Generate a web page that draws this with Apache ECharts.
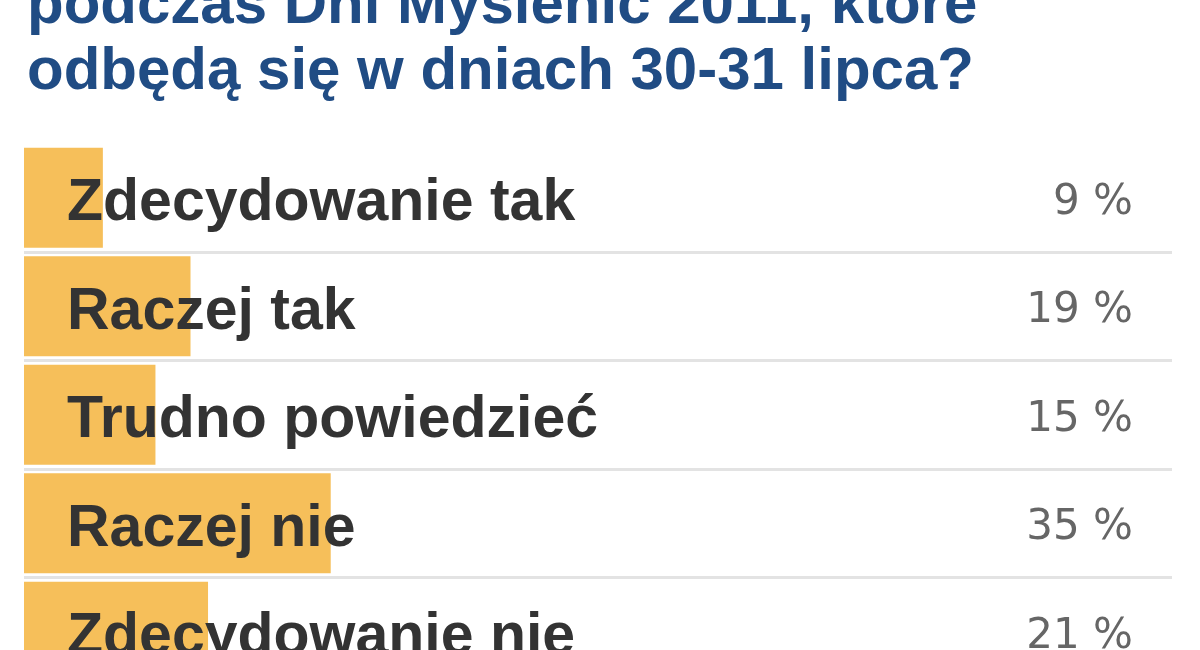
<!DOCTYPE html>
<html>
<head>
<meta charset="utf-8">
<script src="https://cdn.jsdelivr.net/npm/echarts@6/dist/echarts.min.js"></script>
<style>
  html, body { margin: 0; padding: 0; background: #fff; overflow: hidden; width: 1200px; height: 650px; }
  /* the last row runs past the bottom edge, as in the cropped original */
  #main { width: 1200px; height: 700px; }
</style>
</head>
<body>
<div id="main"></div>
<script>
// poll answers, top to bottom
var categories = ['Zdecydowanie tak', 'Raczej tak', 'Trudno powiedzieć', 'Raczej nie', 'Zdecydowanie nie'];
var values = [9, 19, 15, 35, 21];
var pctLabels = ['9 %', '19 %', '15 %', '35 %', '21 %'];

var myChart = echarts.init(document.getElementById('main'));

var option = {
    backgroundColor: '#fff',
    animation: false,
    title: {
        text: 'podczas Dni Myślenic 2011, które\nodbędą się w dniach 30-31 lipca?',
        left: 22,
        top: -32,
        textStyle: {
            fontFamily: 'Liberation Sans',
            fontSize: 60,
            fontWeight: 'bold',
            lineHeight: 66,
            color: '#204c84'
        }
    },
    grid: {
        left: 24,
        top: 143.5,
        width: 1148,
        height: 542.5
    },
    xAxis: {
        type: 'value',
        min: 0,
        max: 131,
        show: false
    },
    yAxis: [
        {
            type: 'category',
            data: categories,
            inverse: true,
            axisLine: { show: false },
            axisTick: { show: false },
            axisLabel: { show: false },
            splitLine: {
                show: true,
                lineStyle: {
                    color: ['rgba(0,0,0,0)', '#e3e3e3', '#e3e3e3', '#e3e3e3', '#e3e3e3', '#e3e3e3'],
                    width: 3
                }
            }
        },
        {
            type: 'category',
            data: pctLabels,
            inverse: true,
            position: 'right',
            axisLine: { show: false },
            axisTick: { show: false },
            splitLine: { show: false },
            axisLabel: {
                inside: true,
                margin: 39,
                formatter: '{p|{value}}',
                rich: {
                    p: {
                        padding: [10, 0, 0, 0],
                        fontFamily: 'DejaVu Sans',
                        fontSize: 42,
                        color: '#666'
                    }
                }
            }
        }
    ],
    series: [
        {
            type: 'bar',
            data: values,
            barWidth: 100,
            itemStyle: { color: '#f6bf5a' },
            label: {
                show: true,
                position: 'insideLeft',
                distance: 43,
                offset: [0, 6],
                formatter: '{b}',
                fontFamily: 'Liberation Sans',
                fontSize: 59,
                fontWeight: 'bold',
                color: '#333'
            }
        }
    ]
};

option && myChart.setOption(option);
</script>
</body>
</html>
